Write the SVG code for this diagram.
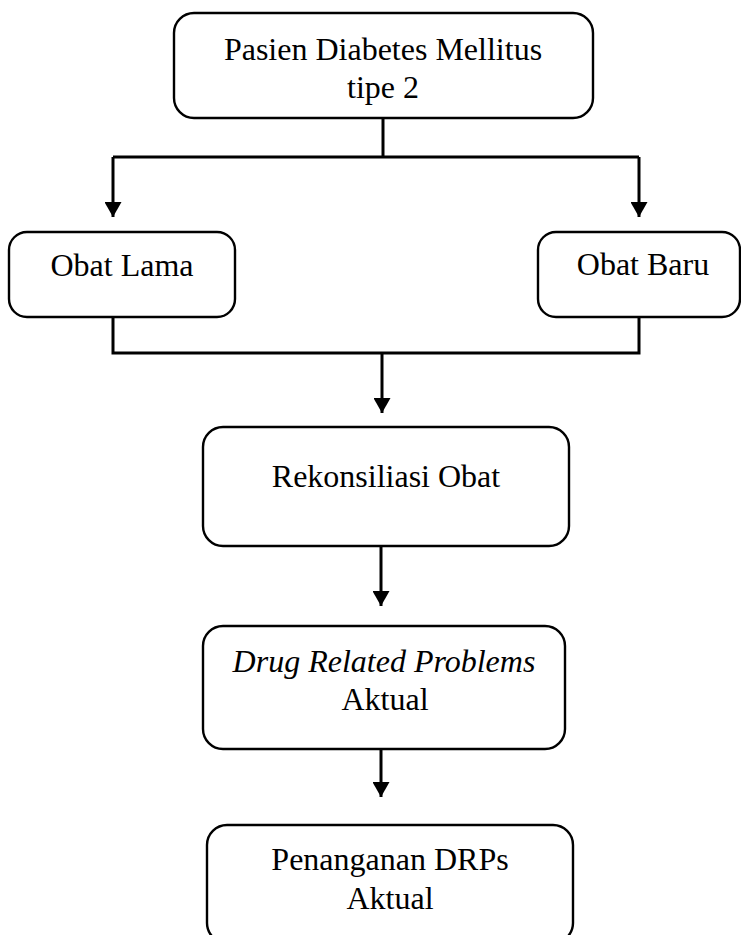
<svg xmlns="http://www.w3.org/2000/svg" width="741" height="935" viewBox="0 0 741 935">
<style>
.box{fill:#fff;stroke:#000;stroke-width:2.4}
.t{font-family:"Liberation Serif","Times New Roman",serif;font-size:32px;fill:#000;text-anchor:middle}
.i{font-style:italic}
.c{fill:none;stroke:#000;stroke-width:3}
</style>
<defs>
<marker id="ah" markerUnits="userSpaceOnUse" markerWidth="18" markerHeight="17" refX="15" refY="8.5" orient="auto">
<path d="M0,0 L15,8.5 L0,17 Z" fill="#000"/>
</marker>
</defs>
<rect width="741" height="935" fill="#fff"/>
<g id="connectors">
<path class="c" d="M383,118 V157"/>
<path class="c" d="M113,157 H639"/>
<path class="c" d="M113,157 V217" marker-end="url(#ah)"/>
<path class="c" d="M639,157 V217" marker-end="url(#ah)"/>
<path class="c" d="M113,317 V353 H639 V317"/>
<path class="c" d="M382,353 V413" marker-end="url(#ah)"/>
<path class="c" d="M381,546 V606" marker-end="url(#ah)"/>
<path class="c" d="M381,749 V797" marker-end="url(#ah)"/>
</g>
<g id="node-pasien">
<rect class="box" x="174" y="13" width="419" height="105" rx="20"/>
<text class="t" x="383" y="60">Pasien Diabetes Mellitus</text>
<text class="t" x="383" y="98">tipe 2</text>
</g>
<g id="node-obat-lama">
<rect class="box" x="9" y="232" width="226" height="85" rx="18"/>
<text class="t" x="122" y="276">Obat Lama</text>
</g>
<g id="node-obat-baru">
<rect class="box" x="538" y="232" width="202" height="85" rx="18"/>
<text class="t" x="643" y="275">Obat Baru</text>
</g>
<g id="node-rekonsiliasi">
<rect class="box" x="203" y="427" width="366" height="119" rx="20"/>
<text class="t" x="386" y="487">Rekonsiliasi Obat</text>
</g>
<g id="node-drp">
<rect class="box" x="203" y="626" width="362" height="123" rx="20"/>
<text class="t i" x="384" y="672">Drug Related Problems</text>
<text class="t" x="385" y="710">Aktual</text>
</g>
<g id="node-penanganan">
<rect class="box" x="207" y="825" width="366" height="118" rx="20"/>
<text class="t" x="390" y="870">Penanganan DRPs</text>
<text class="t" x="390" y="909">Aktual</text>
</g>
</svg>
